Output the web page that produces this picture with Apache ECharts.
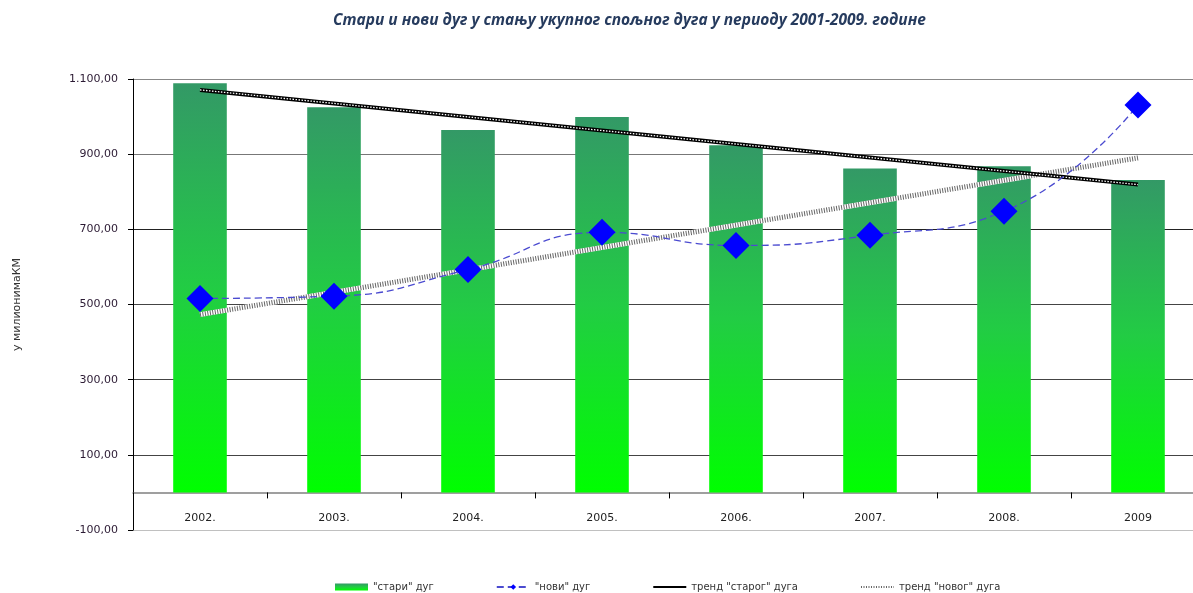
<!DOCTYPE html>
<html>
<head>
<meta charset="utf-8">
<title>Стари и нови дуг</title>
<script src="https://cdn.jsdelivr.net/npm/echarts@6/dist/echarts.min.js"></script>
<style>
  html, body { margin: 0; padding: 0; background: #fff; overflow: hidden; }
  /* графикон је мало шири од прозора, десна ивица је одсечена као на оригиналу */
  #chart { width: 1205px; height: 593px; }
</style>
</head>
<body>
<div id="chart"></div>
<script>
// подаци очитани са слике
var years = ['2002.', '2003.', '2004.', '2005.', '2006.', '2007.', '2008.', '2009'];
var stariDug = [1089, 1025, 964, 999, 924, 862, 868, 831];
var noviDug = [516, 522, 593, 692, 657, 684, 748, 1031];
// трендови: само крајње тачке, линија се спаја преко празнина
var trendStarog = [1071, null, null, null, null, null, null, 819];
var trendNovog = [473, null, null, null, null, null, null, 890];
var yTicks = [-100, 100, 300, 500, 700, 900, 1100];

function fmt(v) {
  var s = Math.abs(v).toFixed(2).split('.');
  var int = s[0].replace(/\B(?=(\d{3})+(?!\d))/g, '.');
  return (v < 0 ? '-' : '') + int + ',' + s[1];
}

var chart = echarts.init(document.getElementById('chart'));

chart.setOption({
  backgroundColor: '#fff',
  animation: false,
  title: {
    text: 'Стари и нови дуг у стању укупног спољног дуга у периоду 2001-2009. године',
    left: 328,
    top: 8,
    textStyle: {
      fontFamily: 'Open Sans',
      fontStyle: 'italic',
      fontWeight: 'bold',
      fontSize: 15.5,
      color: '#263b5e'
    }
  },
  legend: {
    left: 330,
    top: 577,
    itemWidth: 33,
    itemHeight: 7,
    itemGap: 62,
    data: [
      { name: '"стари" дуг', icon: 'rect' },
      '"нови" дуг',
      'тренд "старог" дуга',
      'тренд "новог" дуга'
    ],
    textStyle: { fontFamily: 'DejaVu Sans', fontSize: 10, color: '#333' }
  },
  grid: { left: 133, right: 0, top: 79, bottom: 63 },
  xAxis: {
    type: 'category',
    data: years,
    axisLine: { onZero: true, lineStyle: { color: '#808080', width: 1.5 } },
    axisTick: { show: true, length: 6, lineStyle: { color: '#000' } },
    axisLabel: { margin: -17, fontFamily: 'DejaVu Sans', fontSize: 11, color: '#222' }
  },
  yAxis: {
    type: 'value',
    min: yTicks[0],
    max: yTicks[yTicks.length - 1],
    interval: 200,
    name: 'у милионимаКМ',
    nameLocation: 'middle',
    nameGap: 110,
    nameTextStyle: { fontFamily: 'DejaVu Sans', fontSize: 11, color: '#333' },
    axisLine: { show: true, onZero: false, lineStyle: { color: '#000' } },
    axisTick: { show: true, length: 5, lineStyle: { color: '#000' } },
    axisLabel: {
      margin: 15,
      fontFamily: 'DejaVu Sans',
      fontSize: 11,
      color: '#2b1a33',
      formatter: fmt
    },
    splitLine: {
      lineStyle: { color: ['#c0c0c0', '#444', '#444', '#444', '#222', '#777', '#888'] }
    }
  },
  series: [
    {
      name: '"стари" дуг',
      type: 'bar',
      data: stariDug,
      barWidth: '40%',
      itemStyle: {
        color: new echarts.graphic.LinearGradient(0, 0, 0, 1, [
          { offset: 0, color: '#339966' },
          { offset: 0.5, color: '#22cc44' },
          { offset: 1, color: '#00ff00' }
        ])
      }
    },
    {
      name: '"нови" дуг',
      type: 'line',
      data: noviDug,
      smooth: 0.5,
      symbol: 'diamond',
      symbolSize: 27,
      z: 6,
      itemStyle: { color: '#0000ff' },
      lineStyle: { color: '#4b4bd0', width: 1.3, type: [7, 4] }
    },
    {
      name: 'тренд "старог" дуга',
      type: 'line',
      data: trendStarog,
      connectNulls: true,
      symbol: 'none',
      z: 4,
      itemStyle: { color: '#000', opacity: 0 },
      lineStyle: { color: '#000', width: 4 }
    },
    {
      name: 'trend-old-dots',
      type: 'line',
      data: trendStarog,
      connectNulls: true,
      symbol: 'none',
      silent: true,
      z: 4,
      lineStyle: { color: '#fff', width: 1.3, type: [1.5, 1.5] }
    },
    {
      name: 'trend-new-base',
      type: 'line',
      data: trendNovog,
      connectNulls: true,
      symbol: 'none',
      silent: true,
      z: 3,
      lineStyle: { color: '#fff', width: 5 }
    },
    {
      name: 'тренд "новог" дуга',
      type: 'line',
      data: trendNovog,
      connectNulls: true,
      symbol: 'none',
      z: 3,
      itemStyle: { color: '#666', opacity: 0 },
      lineStyle: { color: '#666', width: 5, type: [1, 1.5] }
    }
  ]
});
</script>
</body>
</html>
